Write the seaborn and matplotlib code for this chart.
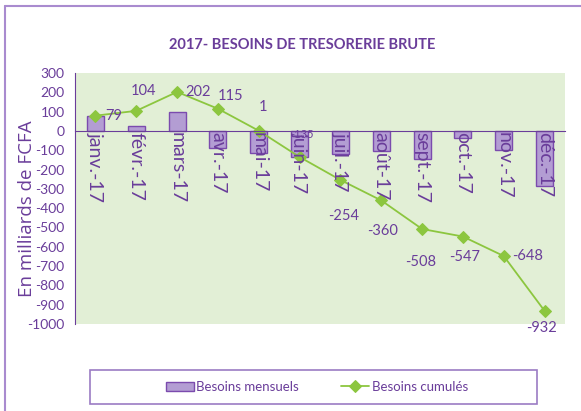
import matplotlib
matplotlib.use("Agg")
import matplotlib.pyplot as plt
import seaborn as sns
import numpy as np
import pandas as pd
from matplotlib.lines import Line2D
from matplotlib.patches import Rectangle

# data
mois = ['janv.-17', 'févr.-17', 'mars-17', 'avr.-17', 'mai-17', 'juin-17',
        'juil.-17', 'août-17', 'sept.-17', 'oct.-17', 'nov.-17', 'déc.-17']
mensuels = [79, 25, 98, -87, -114, -136, -119, -106, -148, -39, -101, -284]
cumules = [79, 104, 202, 115, 1, -135, -254, -360, -508, -547, -648, -932]

# where each cumulated label sits, relative to its point (points)
label_offsets = [(13, 0), (5, 14), (15, 0), (9, 9), (3, 17), (2, 16),
                 (2, -26), (1, -22), (-1, -24), (1, -15), (17, 0), (-2, -12)]

purple = '#6A3D9A'
bar_fill = '#B39DD3'
bar_edge = '#7B4BAE'
green = '#8CC63F'
bg = '#E2EFD6'

sns.set_style('white')
plt.rcParams['font.family'] = ['Lato', 'DejaVu Sans']
plt.rcParams['axes.unicode_minus'] = False

df = pd.DataFrame({'mois': mois, 'mensuels': mensuels, 'cumules': cumules})
df['pos'] = np.arange(len(mois))

fig = plt.figure(figsize=(5.81, 4.11), dpi=100)
ax = fig.add_axes([75/581, 1 - 324/411, (565-75)/581, (324-73)/411])
ax.set_facecolor(bg)

sns.barplot(data=df, x='pos', y='mensuels', color=bar_fill, width=0.42,
            edgecolor=bar_edge, linewidth=1, saturation=1, ax=ax,
            label='Besoins mensuels', native_scale=True)
sns.lineplot(data=df, x='pos', y='cumules', color=green, marker='D',
             markersize=6, markeredgecolor=green, linewidth=1.3, sort=False,
             ax=ax, label='Besoins cumulés')

ax.set_xlim(-0.5, len(mois) - 0.5)
ax.set_ylim(-1000, 300)
ax.set_yticks(np.arange(-1000, 301, 100))
ax.tick_params(axis='y', colors=purple, labelsize=10, direction='inout',
               length=9, width=1, pad=3)

# x axis drawn at zero with ticks between categories
ax.spines['bottom'].set_position(('data', 0))
ax.spines['bottom'].set_color(purple)
ax.spines['left'].set_color(purple)
ax.spines['top'].set_visible(False)
ax.spines['right'].set_visible(False)
ax.set_xticks(np.arange(-0.5, len(mois), 1))
ax.set_xticklabels([])
ax.tick_params(axis='x', colors=purple, direction='inout', length=9, width=1)
ax.set_xlabel('')
ax.set_ylabel('En milliards de FCFA', color=purple, fontsize=13.5,
              family=['Open Sans', 'DejaVu Sans'])
ax.yaxis.set_label_coords(-0.08, 0.458)

for i, m in enumerate(mois):
    ax.text(i, -8, m, rotation=-90, ha='center', va='top', color=purple,
            fontsize=14)

for i, v in enumerate(cumules):
    dx, dy = label_offsets[i]
    ax.annotate(str(v), (i, v), xytext=(dx, dy), textcoords='offset points',
                ha='center', va='center', color=purple,
                fontsize=8 if i == 5 else 10.5)

ax.get_legend().remove()
handles, labels = ax.get_legend_handles_labels()
order = [labels.index('Besoins mensuels'), labels.index('Besoins cumulés')]
fig.legend([handles[k] for k in order], [labels[k] for k in order],
           loc='center', bbox_to_anchor=(317/581, 1 - 387/411),
           ncol=2, frameon=False, columnspacing=3.2, handlelength=2.1,
           handletextpad=0.2, fontsize=9.5, labelcolor=purple)
fig.add_artist(Rectangle((90/581, 1 - 404/411), (537-90)/581, 34/411,
                         transform=fig.transFigure, fill=False,
                         edgecolor='#9B7BC4', linewidth=1.2))

fig.text(302/581, 1 - 45/411, '2017- BESOINS DE TRESORERIE BRUTE',
         ha='center', va='center', color=purple, fontsize=10.5, weight='bold')

# outer frame (top and left edges visible)
fig.add_artist(Line2D([5/581, 5/581], [0, 1 - 6/411], transform=fig.transFigure,
                      color='#A98BCF', linewidth=1.5))
fig.add_artist(Line2D([5/581, 1], [1 - 6/411, 1 - 6/411], transform=fig.transFigure,
                      color='#A98BCF', linewidth=1.5))

fig.savefig('out.png', dpi=100)
